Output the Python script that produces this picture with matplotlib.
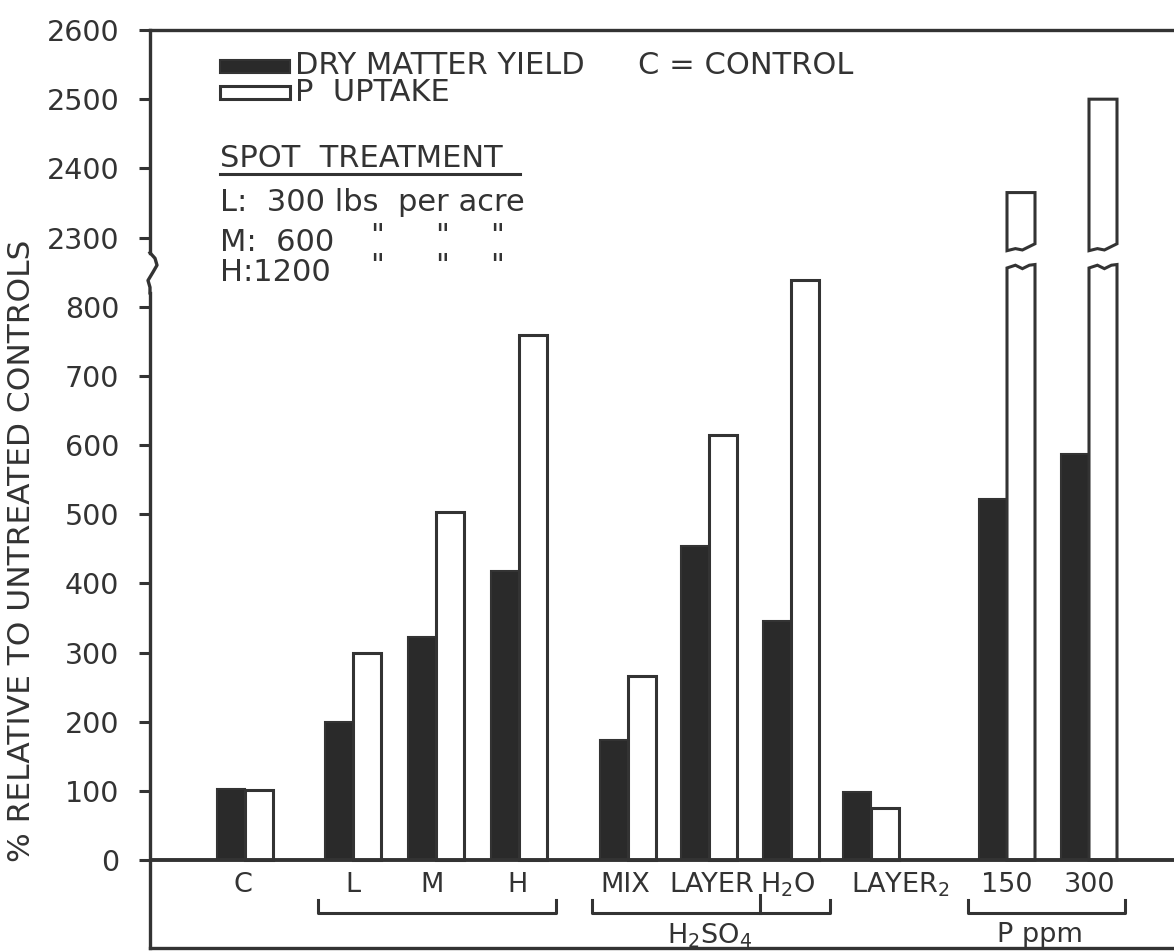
import numpy as np
import matplotlib.pyplot as plt
from matplotlib.patches import Polygon, Rectangle

# data (% relative to untreated controls)
groups = ["C", "L", "M", "H", "MIX", "LAYER", "H$_2$O", "LAYER$_2$", "150", "300"]
dry_matter = [103, 200, 323, 418, 173, 454, 346, 98, 522, 587]
p_uptake = [101, 300, 503, 759, 266, 615, 839, 76, 2365, 2500]

lower_ticks = [0, 100, 200, 300, 400, 500, 600, 700, 800]
upper_ticks = [2300, 2400, 2500, 2600]

# layout
centers = np.array([0.95, 2.03, 2.86, 3.69, 4.78, 5.59, 6.41, 7.21, 8.57, 9.39])
label_x = [0.93, 2.03, 2.82, 3.67, 4.75, 5.62, 6.38, 7.50, 8.57, 9.40]
W = 0.28
GAP = 1400          # removed band of the broken axis
BRK_LO, BRK_HI = 858, 887
INK = "#333333"
plt.rcParams["font.family"] = "DejaVu Sans"


def fwd(v):
    v = np.asarray(v, dtype=float)
    return np.where(v > 1500, v - GAP, v)


fig = plt.figure(figsize=(11.74, 9.52), dpi=100)
ax = fig.add_axes([150 / 1174, 1 - 948 / 952, 1 - 150 / 1174, (948 - 30) / 952])
ax.set_xlim(0, 10.24)
ax.set_ylim(-127, 1200)

# bars
ax.bar(centers - W / 2, dry_matter, W, color="#2a2a2a", edgecolor=INK, linewidth=1.5)
for x, v in zip(centers + W / 2, p_uptake):
    x0, x1 = x - W / 2, x + W / 2
    if v < BRK_LO:
        ax.add_patch(Rectangle((x0, 0), W, v, facecolor="white", edgecolor=INK, linewidth=2.2))
    else:
        fx = np.array([0, 0.3, 0.55, 0.8, 1.0])
        top = BRK_LO + np.array([-2, 2, -3, 2, 3])
        lo = [(x0, 0), (x1, 0)] + list(zip(x0 + fx[::-1] * W, top[::-1]))
        ax.add_patch(Polygon(lo, closed=True, facecolor="white", edgecolor=INK, linewidth=2.2))
        bot = BRK_HI + np.array([-6, -3, -5, 0, 4])
        up = list(zip(x0 + fx * W, bot)) + [(x1, float(fwd(v))), (x0, float(fwd(v)))]
        ax.add_patch(Polygon(up, closed=True, facecolor="white", edgecolor=INK, linewidth=2.2))

# axes frame
for s in ["left", "right"]:
    ax.spines[s].set_visible(False)
for s in ["top", "bottom"]:
    ax.spines[s].set_color(INK)
    ax.spines[s].set_linewidth(2.4)
ax.axhline(0, color=INK, linewidth=2.8, zorder=3)
ax.plot([0, 0], [1200, 878], color=INK, lw=2.4, clip_on=False)
ax.plot([0, 0], [820, -127], color=INK, lw=2.4, clip_on=False)
ax.plot([0, 0.05, 0.07, 0.03, -0.02, 0.0, 0.0],
        [878, 870, 860, 850, 838, 828, 820], color=INK, lw=2.4, clip_on=False)

ticks = list(fwd(lower_ticks)) + list(fwd(upper_ticks))
ax.set_yticks(ticks)
ax.set_yticklabels([str(t) for t in lower_ticks + upper_ticks])
ax.tick_params(axis="y", direction="out", length=8, width=2.2, color=INK,
               labelsize=20.5, labelcolor=INK, pad=14)
ax.set_xticks([])

fig.text(22 / 1174, 1 - 551 / 952, "% RELATIVE TO UNTREATED CONTROLS", rotation=90,
         ha="center", va="center", fontsize=22.5, color=INK)

# category labels and brackets
for x, lab in zip(label_x, groups):
    ax.text(x, -36, lab, ha="center", va="center", fontsize=19.5, color=INK)

bk = dict(color=INK, lw=2.2, clip_on=False)
ax.plot([1.68, 1.68, 4.06, 4.06], [-57, -77, -77, -57], **bk)
ax.plot([4.42, 4.42, 6.80, 6.80], [-57, -77, -77, -57], **bk)
ax.plot([6.10, 6.10], [-77, -50], **bk)
ax.plot([8.18, 8.18, 9.75, 9.75], [-57, -77, -77, -57], **bk)
ax.text(5.60, -110, "H$_2$SO$_4$", ha="center", va="center", fontsize=19.5, color=INK)
ax.text(8.90, -108, "P ppm", ha="center", va="center", fontsize=19.5, color=INK)

# legend / notes
ax.add_patch(Rectangle((0.70, 1138), 0.70, 19, facecolor="#2a2a2a", edgecolor=INK, lw=1.5))
ax.add_patch(Rectangle((0.70, 1100), 0.70, 19, facecolor="white", edgecolor=INK, lw=2.2))
txt = dict(fontsize=22, color=INK, va="center", ha="left")
ax.text(1.45, 1148, "DRY MATTER YIELD", **txt)
ax.text(4.88, 1148, "C = CONTROL", **txt)
ax.text(1.45, 1109, "P  UPTAKE", **txt)
ax.text(0.70, 1014, "SPOT  TREATMENT", **txt)
ax.plot([0.70, 3.70], [992, 992], color=INK, lw=2.2)
ax.text(0.70, 951, "L:  300 lbs  per acre", **txt)
ax.text(0.70, 893, "M:  600", **txt)
ax.text(0.70, 850, "H:1200", **txt)
for y in [893, 850]:
    for x in [2.20, 2.85, 3.40]:
        ax.text(x, y + 8, '"', **txt)

fig.savefig("out.png", dpi=100)
